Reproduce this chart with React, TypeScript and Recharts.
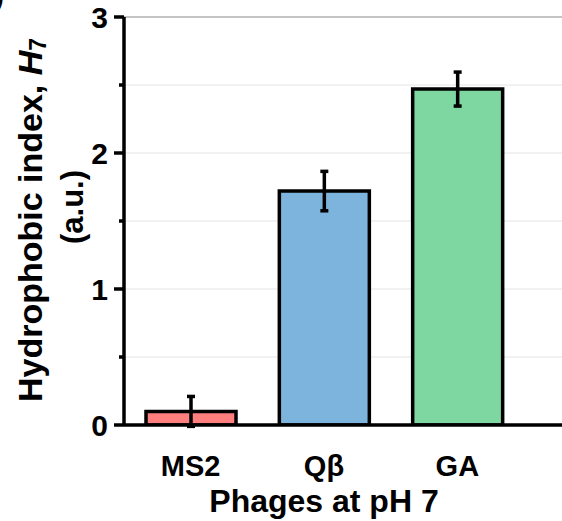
import React from 'react';
import { BarChart, Bar, XAxis, YAxis, CartesianGrid, ErrorBar, Cell, ReferenceLine, Label } from 'recharts';

const categories = ['MS2', 'Qβ', 'GA'];
const values = [0.10, 1.72, 2.47];
const errors = [0.11, 0.145, 0.125];
const colors = ['#FF7F7F', '#7DB4DD', '#7ED6A0'];
const yTicks = [0, 0.5, 1, 1.5, 2, 2.5, 3];

const data = categories.map((c, i) => ({ name: c, value: values[i], err: errors[i] }));

const FONT = '"Liberation Sans", Arial, sans-serif';

const YTick = (props: any) => {
  const { x, y, payload } = props;
  const v = payload.value;
  const isInt = Number.isInteger(v);
  return (
    <g>
      <line x1={x - (isInt ? 10 : 5)} x2={x} y1={y} y2={y} stroke="#000" strokeWidth={3.5} />
      {isInt && (
        <text x={x - 16} y={y} dy={11} textAnchor="end" fontFamily={FONT} fontWeight="bold" fontSize={30} fill="#000">
          {v}
        </text>
      )}
    </g>
  );
};

const XTick = (props: any) => {
  const { x, y, payload } = props;
  return (
    <text x={x} y={y} dy={51} textAnchor="middle" fontFamily={FONT} fontWeight="bold" fontSize={29} fill="#000">
      {payload.value}
    </text>
  );
};

const YTitle = () => (
  <g fontFamily={FONT} fontWeight="bold" fill="#000">
    <text x={30} y={220} transform="rotate(-90, 30, 220)" textAnchor="middle" dominantBaseline="central" fontSize={34}>
      Hydrophobic index, <tspan fontStyle="italic">H</tspan>
      <tspan fontSize={23} dy={8}>7</tspan>
    </text>
    <text x={72} y={207} transform="rotate(-90, 72, 207)" textAnchor="middle" dominantBaseline="central" fontSize={31}>
      (a.u.)
    </text>
  </g>
);

const XTitle = () => (
  <text x={324} y={512} textAnchor="middle" fontFamily={FONT} fontWeight="bold" fontSize={32} fill="#000">
    Phages at pH 7
  </text>
);

export default function App() {
  return (
    <div style={{ position: 'absolute', left: 0, top: 0, width: 562, height: 521, background: '#fff' }}>
      <BarChart width={562} height={521} data={data} margin={{ top: 17, right: 0, bottom: 0, left: 0 }} barSize={90}>
        <CartesianGrid vertical={false} stroke="#e4e4e4" strokeWidth={1} />
        <ReferenceLine y={3} stroke="#b5b5b5" strokeWidth={1.5} />
        <XAxis
          dataKey="name"
          height={96}
          axisLine={{ stroke: '#000', strokeWidth: 3.5 }}
          tickLine={false}
          tickSize={0}
          tickMargin={0}
          tick={<XTick />}
          interval={0}
          padding={{ left: 0, right: 38 }}
        >
          <Label content={<XTitle />} />
        </XAxis>
        <YAxis
          width={124}
          domain={[0, 3]}
          ticks={yTicks}
          allowDataOverflow
          interval={0}
          axisLine={{ stroke: '#000', strokeWidth: 3.5 }}
          tickLine={false}
          tickSize={0}
          tickMargin={0}
          tick={<YTick />}
        >
          <Label content={<YTitle />} />
        </YAxis>
        <Bar dataKey="value" stroke="#000" strokeWidth={3.5} isAnimationActive={false}>
          {data.map((d, i) => (
            <Cell key={d.name} fill={colors[i]} />
          ))}
          <ErrorBar dataKey="err" width={4} strokeWidth={3.5} stroke="#000" direction="y" />
        </Bar>
      </BarChart>
      <svg width={20} height={20} style={{ position: 'absolute', left: 0, top: 0 }}>
        <text x={-6} y={6} fontFamily={FONT} fontWeight="bold" fontSize={30} fill="#000">)</text>
      </svg>
    </div>
  );
}
